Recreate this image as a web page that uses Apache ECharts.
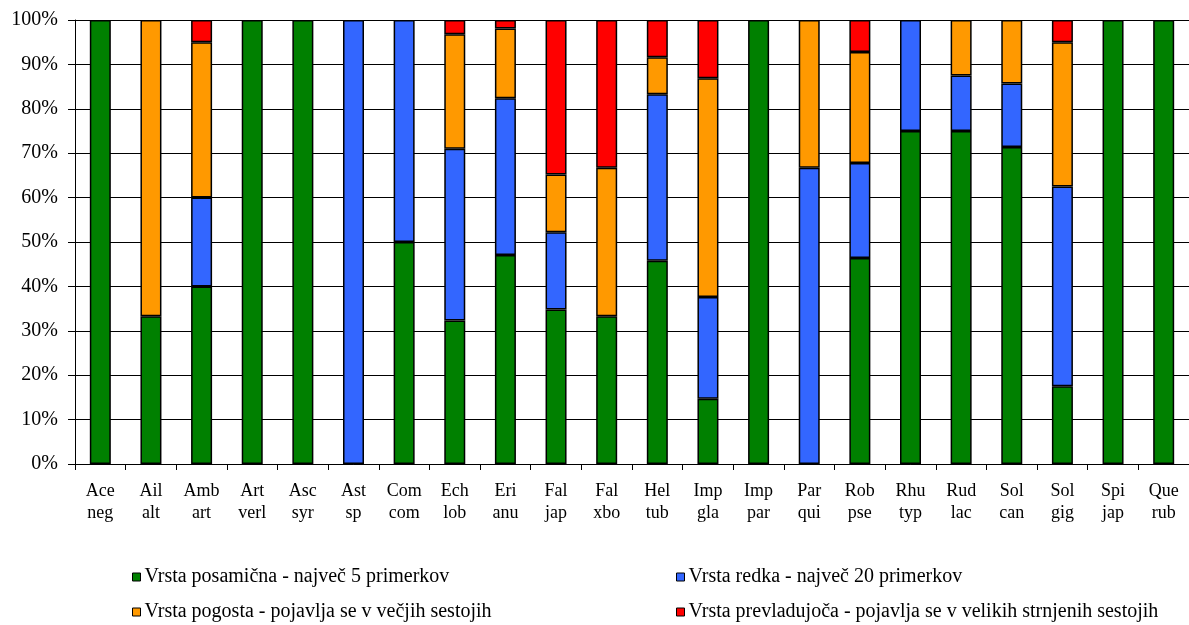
<!DOCTYPE html>
<html>
<head>
<meta charset="utf-8">
<script src="https://cdn.jsdelivr.net/npm/echarts@6/dist/echarts.min.js"></script>
<style>html,body{margin:0;padding:0;background:#fff;}#c{width:1189px;height:625px;}</style>
</head>
<body>
<div id="c"></div>
<script>
var categories = ['Ace\nneg','Ail\nalt','Amb\nart','Art\nverl','Asc\nsyr','Ast\nsp','Com\ncom','Ech\nlob','Eri\nanu','Fal\njap','Fal\nxbo','Hel\ntub','Imp\ngla','Imp\npar','Par\nqui','Rob\npse','Rhu\ntyp','Rud\nlac','Sol\ncan','Sol\ngig','Spi\njap','Que\nrub'];
var seriesNames = ['Vrsta posamična - največ 5 primerkov','Vrsta redka - največ 20 primerkov','Vrsta pogosta - pojavlja se v večjih sestojih','Vrsta prevladujoča - pojavlja se v velikih strnjenih sestojih'];
var posamicna =   [100, 33.3, 40, 100, 100, 0,   50, 32.3, 47.1, 34.8, 33.3, 45.8, 14.7, 100, 0,    46.4, 75, 75,   71.4, 17.5, 100, 100];
var redka =       [0,   0,    20, 0,   0,   100, 50, 38.7, 35.3, 17.4, 0,    37.5, 22.9, 0,   66.7, 21.4, 25, 12.5, 14.3, 45,   0,   0];
var pogosta =     [0,   66.7, 35, 0,   0,   0,   0,  25.8, 15.7, 13.0, 33.4, 8.3,  49.3, 0,   33.3, 25.0, 0,  12.5, 14.3, 32.5, 0,   0];
var prevladujoca =[0,   0,    5,  0,   0,   0,   0,  3.2,  1.9,  34.8, 33.3, 8.4,  13.1, 0,   0,    7.2,  0,  0,    0,    5,    0,   0];
var yTicks = [0,10,20,30,40,50,60,70,80,90,100];
var colors = ['#008000','#3366FF','#FF9900','#FF0000'];

var allData = [posamicna, redka, pogosta, prevladujoca];
var font = 'Liberation Serif';
var chart = echarts.init(document.getElementById('c'), null, {renderer:'canvas'});
var series = allData.map(function(d,i){
  return {
    name: seriesNames[i], type:'bar', stack:'total', barWidth:21,
    data: d.map(function(v){ return v === 0 ? '-' : v; }),
    itemStyle:{color:colors[i], borderColor:'#000', borderWidth:1.5},
    animation:false
  };
});
function legendAt(i,left,top){
  return {data:[seriesNames[i]], left:left, top:top, itemWidth:8, itemHeight:8, itemGap:0, padding:0,
    icon:'rect', textStyle:{fontFamily:font, fontSize:20, color:'#000', padding:[0,0,0,-1]},
    itemStyle:{borderColor:'#000', borderWidth:1}, selectedMode:false};
}
chart.setOption({
  animation:false,
  color: colors,
  grid:{left:75, right:0, top:20, bottom:161, containLabel:false},
  legend:[legendAt(0,132,567), legendAt(1,676,567), legendAt(2,132,602), legendAt(3,676,602)],
  xAxis:{type:'category', data:categories,
    axisLine:{lineStyle:{color:'#000', width:1}},
    axisTick:{show:true, length:6, lineStyle:{color:'#000'}},
    axisLabel:{interval:0, fontFamily:font, fontSize:18, color:'#000', lineHeight:22, margin:16},
    splitLine:{show:false}},
  yAxis:{type:'value', min:0, max:100, interval:10,
    axisLine:{show:true, lineStyle:{color:'#000', width:1}},
    axisTick:{show:true, length:7, lineStyle:{color:'#000'}},
    axisLabel:{fontFamily:font, fontSize:20, color:'#000', margin:17,
      formatter:function(v){ return yTicks.indexOf(v) >= 0 ? v + '%' : ''; }},
    splitLine:{show:true, lineStyle:{color:'#000', width:1}}},
  series: series
});
</script>
</body>
</html>
